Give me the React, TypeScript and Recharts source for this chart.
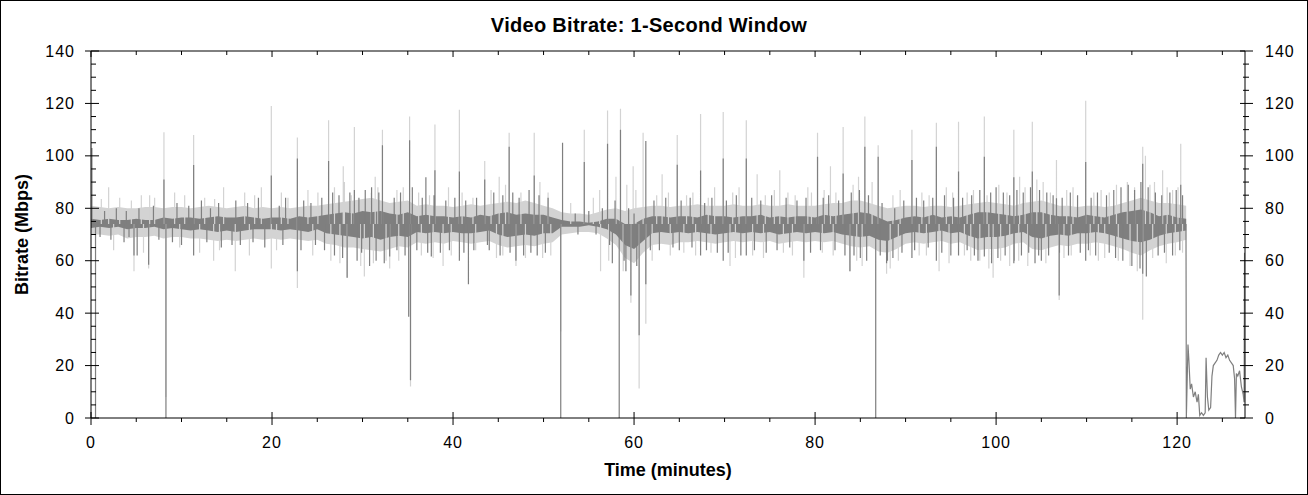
import { Area, ComposedChart, Line, XAxis, YAxis } from "recharts";

// 1-minute envelope of the two traces, minutes 0..121
const darkHi = [
  76, 75.5, 76, 75.5, 75.5, 76, 75.5, 75.5, 76.5, 76,
  76.5, 76.5, 76, 76.5, 77, 76.5, 76.5, 77, 76.5, 76,
  76.5, 76.5, 76, 77, 76.5, 77, 77.5, 78, 78.5, 78,
  79, 78.5, 79, 78, 77.5, 78.5, 77, 77.5, 77, 77,
  76.5, 77, 76.5, 77.5, 77, 78, 78.5, 77.5, 78, 77.5,
  77.5, 76.5, 75.5, 75, 75, 74.5, 75, 76, 76, 74,
  74, 76, 77, 77, 76.5, 77, 77, 76.5, 77.5, 77,
  77, 76.5, 77, 77, 77.5, 76.5, 77, 76.5, 77, 77,
  76.5, 77.5, 77, 77.5, 78, 78.5, 78, 76.5, 75, 75.5,
  76.5, 77, 76.5, 77.5, 76.5, 77, 76.5, 77.5, 78.5, 78.5,
  78, 77.5, 77, 77.5, 78.5, 78.5, 77.5, 77, 77, 76.5,
  77.5, 77, 76.5, 77.5, 78.5, 79, 79.5, 78.5, 77, 77.5,
  76.5, 76,
];
const darkLo = [
  72.5, 73, 72.5, 73, 72, 72.5, 72.5, 73, 72, 72.5,
  72, 71.5, 72, 71.5, 71, 71.5, 71, 71.5, 72, 72,
  72, 71.5, 72, 71.5, 71, 72, 70.5, 70, 69.5, 69,
  68.5, 69, 68, 69, 69.5, 69, 71, 70.5, 71, 70.5,
  71, 70.5, 70.5, 71, 71.5, 70, 69, 69.5, 70, 69.5,
  70.5, 70.5, 73, 73, 73, 73.5, 73, 72, 70, 66,
  64.5, 67.5, 70.5, 71, 70.5, 71, 70.5, 71, 70.5, 70,
  70.5, 71, 70.5, 71, 70.5, 71, 70, 70.5, 71, 70.5,
  71, 70.5, 71, 70, 69.5, 69, 69.5, 68, 67.5, 69,
  70.5, 71, 70.5, 71, 71.5, 70.5, 71, 69.5, 68.5, 69,
  69, 69.5, 70.5, 71, 69, 68.5, 69.5, 70, 69.5, 70.5,
  70.5, 71, 70.5, 69.5, 68.5, 67.5, 67, 68, 69.5, 70.5,
  71, 71.5,
];
const lightHi = [
  81, 80.5, 80, 80.5, 80, 80, 80.5, 80.5, 80, 80.5,
  80.5, 80, 80.5, 81, 80.5, 80, 80.5, 81, 80, 80.5,
  80, 80.5, 80, 80.5, 81, 81, 81.5, 82, 82.5, 83,
  83.5, 84, 83, 82, 82.5, 83, 81, 81.5, 81, 81,
  80.5, 81, 81.5, 81, 81.5, 82, 82.5, 82, 83, 82,
  81, 80, 78.5, 78, 78, 77.5, 78.5, 79.5, 80, 79,
  80, 80.5, 81, 81, 80.5, 81, 81, 81.5, 81, 81,
  81, 81.5, 81, 81, 81.5, 81, 81, 81.5, 81, 81,
  81, 81.5, 82, 82, 83, 83, 82, 81, 80, 80.5,
  81, 81, 80.5, 81, 81, 80.5, 81, 81.5, 82, 82.5,
  82, 81.5, 81, 82, 82.5, 83, 82, 81, 81, 80.5,
  81, 81, 80.5, 81, 82, 83, 84, 83, 82, 82,
  81.5, 81,
];
const lightLo = [
  70, 70, 69.5, 70, 68.5, 69, 69, 69.5, 68.5, 69,
  69, 68.5, 68.5, 68, 67.5, 68, 67.5, 68, 68.5, 68,
  68.5, 68, 68.5, 68, 67.5, 68, 66.5, 66, 65, 65,
  64.5, 64, 63.5, 64.5, 65.5, 65, 67, 66.5, 67, 66.5,
  67.5, 67, 66.5, 67, 67.5, 66, 65, 65.5, 66, 65.5,
  66.5, 67, 70, 70.5, 71, 71, 70.5, 68.5, 66, 61,
  59, 63, 66, 66.5, 66, 67, 67, 67.5, 67, 66.5,
  67, 67.5, 67, 67.5, 67, 67.5, 66.5, 67, 67.5, 67,
  67.5, 67, 67.5, 66.5, 65.5, 65, 65.5, 63.5, 63, 64.5,
  66.5, 67, 66.5, 67, 67.5, 66.5, 67, 65.5, 64, 64.5,
  64.5, 65, 66.5, 67, 64.5, 64, 65, 66, 65.5, 66.5,
  66.5, 67, 66.5, 65.5, 64.5, 63, 62, 64, 65.5, 66.5,
  67, 68,
];

// single-second peaks / dips: [minute, Mbps]
const lightSpikes: [number, number][] = [
  [1.95, 88], [6.48, 85], [8.06, 109], [11.34, 108], [14.65, 88], [19.92, 119],
  [22.8, 107], [26.25, 113.6], [27.87, 96], [29.1, 111], [31.4, 92], [32.2, 110],
  [35.2, 115], [38.0, 112], [40.7, 117.6], [43.5, 98], [45.1, 92], [46.2, 108.8],
  [48.97, 108.8], [54.5, 110], [57.07, 117.3], [58.5, 118], [59.9, 96], [61.0, 108.8],
  [63.1, 93], [64.77, 108], [67.35, 116], [69.85, 116.7], [72.4, 113.6], [73.6, 93],
  [76.1, 94.5], [80.27, 108.8], [81.7, 96], [83.1, 111], [85.5, 115], [86.97, 104],
  [90.7, 110], [93.4, 112.6], [95.85, 113], [98.7, 115], [101.96, 110], [104.0, 113],
  [106.67, 98.4], [109.9, 121], [116.2, 103.5], [116.5, 100], [118.4, 94.5], [120.4, 104.6],
  [4.75, 56], [6.37, 57], [8.28, 8], [13.55, 60], [15.94, 56], [19.92, 57],
  [22.8, 49.6], [28.3, 53.5], [30.2, 54], [33.0, 57], [35.3, 12], [38.9, 58],
  [46.95, 58], [51.9, 33], [56.3, 56], [59.65, 44], [60.56, 11.3], [61.3, 36],
  [70.6, 58], [78.76, 53.5], [83.85, 56], [87.9, 55], [93.7, 56], [99.67, 53.5],
  [101.5, 58], [106.97, 45], [116.2, 37.5],
];
const lightFuzz: [number, number][] = [
  [1.14, 83.5], [3.17, 84], [4.46, 83], [5.56, 85], [7.03, 84], [9.24, 86], [10.35, 85],
  [12.56, 84], [13.66, 83.5], [16.98, 86], [18.08, 85], [18.82, 88], [21.03, 86], [21.76, 84],
  [23.97, 87], [25.07, 86], [26.9, 88], [28.0, 90], [28.76, 85], [30.97, 86], [31.7, 88],
  [2.5, 64], [5.8, 63], [9.8, 65], [12.0, 63], [14.2, 64], [17.5, 62], [20.5, 64],
  [24.5, 62], [26.5, 60], [27.5, 59], [29.8, 58], [31.2, 59], [32.6, 60],
  [33.8, 87], [34.5, 88], [36.2, 86], [37.4, 85], [39.5, 88], [41.0, 86], [42.2, 84],
  [44.2, 87], [45.8, 89], [47.5, 86], [49.6, 90], [50.5, 86], [53.0, 82], [55.5, 84],
  [56.2, 87], [58.0, 92], [59.2, 89], [60.2, 87], [62.5, 85], [63.8, 86],
  [34.0, 60], [36.5, 62], [37.8, 61], [39.8, 62], [42.5, 64], [44.8, 61], [45.5, 62],
  [48.0, 61], [49.9, 61], [50.8, 62], [57.2, 60], [58.8, 56], [62.0, 60], [64.0, 62],
  [65.8, 85], [66.5, 86], [68.2, 84], [68.9, 88], [70.9, 86], [71.6, 88], [74.5, 85],
  [75.5, 87], [77.0, 86], [77.8, 85], [79.2, 88], [79.6, 86], [81.0, 87], [82.3, 86],
  [84.2, 89], [84.8, 92], [86.3, 90], [88.6, 85], [89.4, 87], [91.8, 86], [92.6, 85],
  [94.5, 88], [95.2, 86],
  [65.5, 63], [66.8, 62], [68.5, 63], [71.2, 61], [73.1, 62], [74.3, 61], [76.5, 63],
  [77.5, 62], [80.8, 63], [82.0, 62], [84.6, 60], [85.2, 58], [88.3, 57], [89.2, 60],
  [91.5, 62], [92.3, 62], [94.8, 59],
  [96.8, 86], [97.5, 87], [99.0, 85], [100.3, 89], [101.2, 86], [102.6, 92], [103.2, 88],
  [104.5, 91], [105.2, 90], [106.0, 86], [107.8, 87], [108.5, 88], [110.8, 86], [111.6, 87],
  [112.5, 86], [113.3, 89], [114.5, 90], [115.3, 88], [117.0, 89], [117.5, 90], [118.9, 88],
  [119.5, 87], [120.1, 88],
  [96.5, 62], [97.2, 60], [98.2, 60], [99.2, 57], [100.5, 60], [102.5, 60], [103.5, 58],
  [105.5, 59], [107.5, 61], [108.3, 62], [110.4, 62], [111.3, 60], [112.0, 61], [113.5, 60],
  [114.8, 58], [115.6, 56], [117.3, 61], [118.8, 59], [119.8, 62], [120.6, 63],
];
const darkSpikes: [number, number][] = [
  [0.1, 103], [8.06, 91], [11.34, 96.5], [19.92, 92.5], [22.8, 99], [26.25, 98],
  [29.1, 87], [32.2, 104], [35.2, 106], [37.0, 91.8], [38.0, 94.5], [40.7, 94],
  [43.5, 91], [46.2, 103.5], [48.97, 92.5], [52.1, 105], [54.5, 97.7], [57.07, 104.6],
  [58.5, 110], [61.3, 105.7], [64.77, 96.6], [67.35, 94.4], [69.85, 99], [72.4, 99],
  [80.27, 99.7], [83.1, 93.3], [85.5, 103.5], [86.97, 99.7], [90.7, 98.4], [93.4, 103.5],
  [95.85, 94], [98.7, 99.7], [101.96, 91.8], [104.0, 94], [106.67, 83.8], [109.9, 97.7],
  [116.2, 97], [120.4, 89],
  [0.5, 0], [3.65, 67], [4.75, 62], [5.1, 62], [6.37, 58.5], [8.28, 0],
  [11.34, 62], [15.58, 66], [22.8, 56], [28.3, 53.5], [30.78, 58], [33.0, 61.6],
  [35.1, 38.6], [35.3, 14.4], [37.6, 61.6], [40.7, 60], [41.7, 51], [43.8, 66],
  [46.95, 60], [51.9, 0], [57.6, 59], [58.36, 0], [59.65, 46.7], [60.56, 31.6],
  [61.3, 51], [67.35, 62], [69.85, 60], [72.4, 62], [78.76, 60], [83.85, 56],
  [86.7, 0], [87.9, 59], [90.7, 61], [93.4, 60], [95.85, 62], [98.7, 61.6],
  [101.96, 59], [104.7, 62], [106.97, 46.7], [109.9, 60], [116.2, 55],
];
const darkFuzz: [number, number][] = [
  [1.5, 79], [2.8, 80], [3.9, 79], [5.3, 80], [6.9, 81], [9.5, 82], [10.8, 81], [12.2, 83],
  [13.2, 80], [14.1, 82], [16.0, 83], [17.3, 82], [18.5, 84], [20.8, 81], [21.5, 84], [23.5, 83],
  [24.3, 82], [25.5, 84], [26.7, 86], [27.4, 85], [28.6, 86], [29.6, 84], [30.3, 87], [31.0, 88],
  [31.8, 86],
  [1.0, 69], [2.2, 68], [4.2, 69], [7.5, 68], [9.0, 67], [10.0, 66], [12.8, 67], [14.4, 65],
  [16.5, 66], [17.9, 67], [19.2, 65], [21.2, 66], [23.2, 64], [24.8, 66], [25.8, 64], [26.9, 62],
  [27.8, 61], [29.4, 60], [29.9, 63], [31.5, 60], [32.4, 59],
  [33.5, 84], [34.2, 86], [35.5, 88], [36.6, 84], [37.9, 85], [39.2, 83], [40.2, 84], [41.4, 83],
  [42.6, 84], [44.5, 86], [45.5, 85], [46.6, 86], [47.3, 84], [48.4, 87], [49.5, 85], [50.5, 84],
  [53.5, 78], [55.0, 79], [56.5, 80], [57.9, 83], [59.4, 80], [60.0, 78], [62.2, 83], [63.5, 84],
  [33.8, 64], [34.7, 62], [36.0, 64], [37.2, 63], [38.6, 63], [39.6, 64], [41.2, 63], [42.3, 64],
  [44.0, 64], [45.2, 62], [46.3, 63], [47.8, 62], [48.6, 63], [49.3, 62], [50.2, 63], [53.8, 70],
  [55.8, 70], [57.3, 66], [58.9, 60], [59.1, 56], [60.3, 58], [61.8, 64], [62.8, 64], [64.3, 65],
  [65.2, 83], [66.2, 84], [67.8, 82], [68.6, 84], [70.2, 83], [71.3, 85], [73.0, 84], [74.0, 83],
  [75.2, 85], [76.8, 84], [78.0, 83], [79.0, 84], [80.9, 84], [81.5, 85], [82.6, 83], [84.0, 86],
  [84.9, 87], [85.9, 85], [87.4, 82], [88.8, 80], [89.8, 83], [91.2, 84], [92.0, 83], [93.0, 84],
  [94.3, 85], [95.3, 84],
  [65.0, 64], [66.4, 65], [68.0, 64], [69.2, 63], [70.4, 63], [71.8, 62], [73.3, 64], [74.6, 63],
  [75.8, 64], [77.2, 65], [79.5, 63], [80.6, 64], [82.2, 64], [83.3, 62], [84.3, 62], [85.0, 61],
  [85.7, 60], [87.2, 62], [88.0, 60], [88.6, 61], [89.6, 63], [91.0, 64], [92.5, 65], [94.0, 63],
  [95.0, 62],
  [96.3, 84], [97.3, 85], [98.2, 87], [99.4, 86], [100.0, 88], [100.8, 86], [101.5, 85], [102.3, 87],
  [103.0, 86], [103.8, 88], [104.8, 87], [105.6, 86], [106.3, 85], [107.3, 84], [108.2, 86], [109.0, 85],
  [110.5, 84], [111.2, 86], [112.2, 85], [113.0, 87], [113.8, 88], [114.6, 89], [115.3, 87], [116.0, 90],
  [116.8, 88], [117.6, 86], [118.3, 85], [119.2, 86], [119.9, 87], [120.6, 85],
  [96.8, 64], [97.6, 62], [98.0, 60], [99.5, 59], [100.2, 61], [101.0, 62], [102.0, 60], [102.8, 62],
  [103.6, 63], [104.3, 59], [105.0, 60], [105.8, 62], [107.0, 63], [108.0, 62], [109.3, 63], [110.2, 64],
  [111.0, 62], [112.5, 63], [113.2, 61], [114.0, 60], [115.0, 58], [115.9, 57], [116.6, 54], [117.9, 62],
  [118.6, 63], [119.5, 62], [120.3, 64],
];

// end credits after the drop at ~121 min
const tailT = [
  120.98, 121.02, 121.2, 121.3, 121.45, 121.6, 121.8, 122.0, 122.2, 122.35,
  122.5, 122.7, 122.9, 123.1, 123.2, 123.35, 123.5, 123.7, 123.85, 124.0,
  124.2, 124.4, 124.6, 124.8, 125.0, 125.2, 125.4, 125.6, 125.8, 126.0,
  126.2, 126.35, 126.45, 126.55, 126.7, 126.9, 127.1, 127.3, 127.4, 127.45,
];
const tailV = [
  74, 0, 28, 22, 11, 13, 8, 10, 6, 9,
  1, 2, 1, 2, 23, 8, 3, 4, 16, 20,
  21, 22, 24, 25, 24, 25, 23, 24, 22, 21,
  20, 15, 0, 17, 16, 18, 12, 9, 6, 63,
];

const xTicks = [0, 5, 10, 15, 20, 25, 30, 35, 40, 45, 50, 55, 60, 65, 70, 75, 80, 85, 90, 95, 100, 105, 110, 115, 120, 125];
const yTicks = [0, 5, 10, 15, 20, 25, 30, 35, 40, 45, 50, 55, 60, 65, 70, 75, 80, 85, 90, 95, 100, 105, 110, 115, 120, 125, 130, 135, 140];

const LIGHT = "#d3d3d3";
const DARK = "#7f7f7f";
const FONT = '"Liberation Sans", Arial, sans-serif';
const SPIKE_BASE = 74;

const bandData = darkHi.map((_, i) => ({
  t: i,
  dark: [darkLo[i], darkHi[i]],
  light: [lightLo[i], lightHi[i]],
}));

function spikeData(spikes: [number, number][]) {
  const out: { t: number; v: number | null }[] = [];
  for (const [t, v] of spikes) {
    out.push({ t, v: SPIKE_BASE }, { t, v }, { t, v: null });
  }
  return out;
}

const lightSpikeData = spikeData(lightSpikes.concat(lightFuzz));
const darkSpikeData = spikeData(darkFuzz.concat(darkSpikes));
const tailData = tailT.map((t, i) => ({ t, v: tailV[i] }));

const isMajor = (v: number) => v % 20 === 0;

function BottomTick({ x, y, payload }: any) {
  const major = isMajor(payload.value);
  return (
    <g>
      <line x1={x} x2={x} y1={major ? y - 6 : y} y2={major ? y + 7 : y + 4} stroke="#000" />
      {major && (
        <text x={x} y={y + 30} textAnchor="middle" fontSize={16} fontFamily={FONT} letterSpacing={1} fill="#000">
          {payload.value}
        </text>
      )}
    </g>
  );
}

function TopTick({ x, y, payload }: any) {
  const major = isMajor(payload.value);
  return <line x1={x} x2={x} y1={y} y2={major ? y + 6 : y + 4} stroke="#000" />;
}

function LeftTick({ x, y, payload }: any) {
  const major = isMajor(payload.value);
  return (
    <g>
      <line x1={major ? x - 6 : x} x2={major ? x + 8 : x + 5} y1={y} y2={y} stroke="#000" />
      {major && (
        <text x={x - 16} y={y} dy={5.5} textAnchor="end" fontSize={16} fontFamily={FONT} letterSpacing={1} fill="#000">
          {payload.value}
        </text>
      )}
    </g>
  );
}

function RightTick({ x, y, payload }: any) {
  const major = isMajor(payload.value);
  return (
    <g>
      <line x1={major ? x - 5 : x - 2} x2={major ? x + 8 : x + 4} y1={y} y2={y} stroke="#000" />
      {major && (
        <text x={x + 20} y={y} dy={5.5} textAnchor="start" fontSize={16} fontFamily={FONT} letterSpacing={1} fill="#000">
          {payload.value}
        </text>
      )}
    </g>
  );
}

export default function App() {
  return (
    <div style={{ position: "absolute", left: 0, top: 0, width: 1308, height: 495, background: "#fff" }}>
      <ComposedChart width={1308} height={495} margin={{ top: 41, right: 13, bottom: 47, left: 31 }}>
        <XAxis
          xAxisId="b"
          dataKey="t"
          type="number"
          domain={[0, 127.5]}
          allowDataOverflow
          ticks={xTicks}
          interval={0}
          tickSize={0}
          tickMargin={0}
          tickLine={false}
          height={30}
          axisLine={{ stroke: "#000" }}
          tick={(p: any) => <BottomTick {...p} />}
        />
        <XAxis
          xAxisId="top"
          orientation="top"
          dataKey="t"
          type="number"
          domain={[0, 127.5]}
          allowDataOverflow
          ticks={xTicks}
          interval={0}
          tickSize={0}
          tickMargin={0}
          tickLine={false}
          height={10}
          axisLine={{ stroke: "#000" }}
          tick={(p: any) => <TopTick {...p} />}
        />
        <YAxis
          yAxisId="l"
          type="number"
          domain={[0, 140]}
          allowDataOverflow
          ticks={yTicks}
          interval={0}
          tickSize={0}
          tickMargin={0}
          tickLine={false}
          width={60}
          axisLine={{ stroke: "#000" }}
          tick={(p: any) => <LeftTick {...p} />}
        />
        <YAxis
          yAxisId="r"
          orientation="right"
          type="number"
          domain={[0, 140]}
          allowDataOverflow
          ticks={yTicks}
          interval={0}
          tickSize={0}
          tickMargin={0}
          tickLine={false}
          width={50}
          axisLine={{ stroke: "#000" }}
          tick={(p: any) => <RightTick {...p} />}
        />
        <Area
          xAxisId="b"
          yAxisId="l"
          data={bandData}
          dataKey="light"
          type="linear"
          stroke="none"
          fill={LIGHT}
          fillOpacity={1}
          isAnimationActive={false}
        />
        <Line
          xAxisId="b"
          yAxisId="l"
          data={lightSpikeData}
          dataKey="v"
          stroke={LIGHT}
          strokeWidth={1.2}
          dot={false}
          activeDot={false}
          isAnimationActive={false}
        />
        <Area
          xAxisId="b"
          yAxisId="l"
          data={bandData}
          dataKey="dark"
          type="linear"
          stroke="none"
          fill={DARK}
          fillOpacity={1}
          isAnimationActive={false}
        />
        <Line
          xAxisId="b"
          yAxisId="l"
          data={darkSpikeData}
          dataKey="v"
          stroke={DARK}
          strokeWidth={1.2}
          dot={false}
          activeDot={false}
          isAnimationActive={false}
        />
        <Line
          xAxisId="top"
          yAxisId="r"
          data={tailData}
          dataKey="v"
          stroke={DARK}
          strokeWidth={1.2}
          dot={false}
          activeDot={false}
          isAnimationActive={false}
        />
      </ComposedChart>
      <svg width={1308} height={495} style={{ position: "absolute", left: 0, top: 0, pointerEvents: "none" }}>
        <text x={649} y={32} textAnchor="middle" fontSize={20} fontWeight="bold" fontFamily={FONT} letterSpacing={0.3} fill="#000">
          Video Bitrate: 1-Second Window
        </text>
        <text x={668} y={476} textAnchor="middle" fontSize={18} fontWeight="bold" fontFamily={FONT} fill="#000">
          Time (minutes)
        </text>
        <text
          x={27.5}
          y={234.5}
          transform="rotate(-90 27.5 234.5)"
          textAnchor="middle"
          fontSize={18}
          fontWeight="bold"
          fontFamily={FONT}
          fill="#000"
        >
          Bitrate (Mbps)
        </text>
        <rect x={0.5} y={0.5} width={1307} height={494} fill="none" stroke="#000" />
      </svg>
    </div>
  );
}
